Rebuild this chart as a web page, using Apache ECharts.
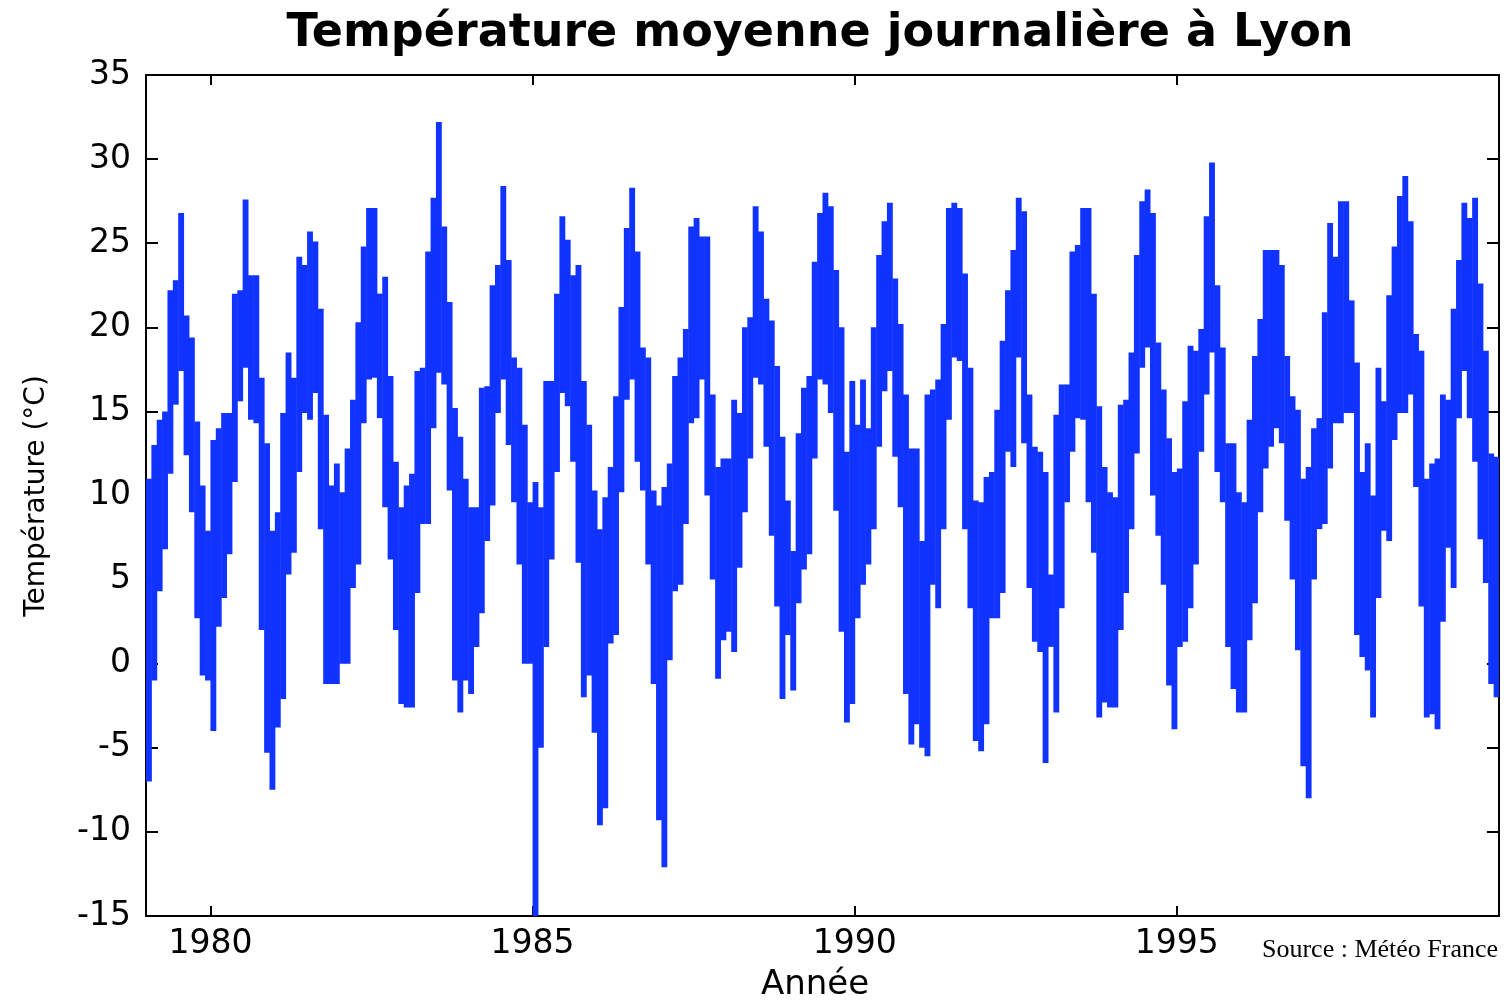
<!DOCTYPE html>
<html>
<head>
<meta charset="utf-8">
<script src="https://cdn.jsdelivr.net/npm/echarts@6/dist/echarts.min.js"></script>
<style>
  html, body { margin: 0; padding: 0; background: #fff; }
  #chart { width: 1508px; height: 1002px; }
</style>
</head>
<body>
<div id="chart"></div>
<script>
// Années couvertes (une ligne de 12 mois par année)
const years = [1979, 1980, 1981, 1982, 1983, 1984, 1985, 1986, 1987, 1988, 1989,
               1990, 1991, 1992, 1993, 1994, 1995, 1996, 1997, 1998, 1999];

// Maximum de la température journalière lu pour chaque mois (°C)
const monthHigh = [
  11, 13, 14.5, 15, 22.2, 22.8, 26.8, 20.7, 19.4, 14.4, 10.6, 7.9,
  13.3, 14, 14.9, 14.9, 22, 22.2, 27.6, 23.1, 23.1, 17, 13.1, 7.9,
  9, 14.9, 18.5, 17, 24.2, 23.7, 25.7, 25.1, 21.1, 14.8, 10.6, 11.9,
  10.2, 12.8, 15.7, 20.3, 24.8, 27.1, 27.1, 22, 23, 17.1, 12, 9.3,
  10.6, 11.3, 17.4, 17.6, 24.5, 27.7, 32.2, 26, 21.5, 15.2, 13.5, 11,
  9.3, 9.3, 16.4, 16.5, 22.5, 23.7, 28.4, 24, 18.2, 17.6, 14.2, 9.6,
  10.8, 9.3, 16.8, 16.8, 22, 26.6, 25.2, 23.1, 23.7, 16.8, 14.2, 10.3,
  8, 9.9, 11.7, 15.9, 21.2, 25.9, 28.3, 24.5, 18.8, 18.2, 10.3, 9.4,
  10.5, 11.9, 17.1, 18.2, 19.9, 26, 26.5, 25.4, 25.4, 16, 11.7, 12.2,
  12.2, 15.7, 14.9, 20, 20.6, 27.2, 25.7, 21.7, 20.4, 17.7, 13.5, 9.7,
  6.7, 13.7, 16.4, 17.1, 23.9, 26.8, 28, 27.2, 23.4, 20, 12.6, 16.8,
  14.2, 16.9, 14, 20, 24.3, 26.3, 27.4, 22.9, 20.2, 16, 12.8, 12.8,
  7.3, 16, 16.3, 16.9, 20.2, 27.1, 27.4, 27.1, 23.2, 17.6, 9.7, 9.6,
  11.1, 11.4, 15.1, 19.2, 22.2, 24.6, 27.7, 26.9, 16, 12.9, 12.6, 11.4,
  5.3, 14.8, 16.6, 16.6, 24.5, 24.9, 27.1, 27.1, 22, 15.3, 11.7, 10.2,
  9.9, 15.4, 15.7, 18.5, 24.3, 27.5, 28.2, 26.8, 19.1, 16.3, 13.4, 11.4,
  11.6, 15.6, 18.9, 18.6, 19.9, 26.6, 29.8, 22.5, 18.8, 13.1, 13.1, 10.2,
  9.6, 14.5, 18.3, 20.5, 24.6, 24.6, 24.6, 23.7, 18.3, 15.9, 15.1, 11,
  11.7, 14, 14.6, 20.9, 26.2, 24.2, 27.5, 27.5, 21.6, 17.9, 11.4, 13.1,
  10, 17.6, 15.6, 21.9, 24.8, 27.8, 29, 26.3, 19.6, 18.6, 11, 11.9,
  12.2, 16, 15.7, 21.1, 24, 27.4, 26.5, 27.7, 22.6, 18.6, 12.5, 12.3
];

// Minimum de la température journalière lu pour chaque mois (°C)
const monthLow = [
  -7, -1, 4.3, 6.8, 11.3, 15.4, 17.4, 12.4, 9, 2.7, -0.7, -1,
  -4, 2.2, 3.9, 6.5, 10.8, 15.6, 17.6, 14.5, 14.3, 2, -5.3, -7.5,
  -3.8, -2.1, 5.3, 6.6, 11.4, 14.9, 14.5, 16.1, 8, -1.2, -1.2, -1.2,
  0, 0, 4.5, 5.9, 14.3, 16.9, 17, 14.6, 9.3, 6.2, 2, -2.4,
  -2.6, -2.6, 4.2, 8.3, 8.3, 14, 17.3, 16.6, 10.3, -1, -2.9, -1,
  -1.8, 1, 3, 7.3, 9.4, 14.9, 16.9, 13, 9.6, 5.9, 0, 0,
  -15, -5, 1, 6.2, 11.4, 16.1, 15.3, 12, 6, -2, -0.7, -4.1,
  -9.6, -8.6, 1.2, 1.7, 10.2, 15.7, 16.9, 12, 10.3, 5.9, -1.2, -9.3,
  -12.1, 0.2, 4.3, 4.7, 8.3, 14.3, 14.6, 16.9, 10, 5, -0.9, 1.4,
  1.9, 0.7, 5.7, 9, 12.2, 17, 16.6, 12.9, 7.6, 3.4, -2.1, 1.7,
  -1.6, 3.6, 5.6, 6.5, 12.2, 16.9, 16.6, 14.9, 9.1, 1.9, -3.5, -2.4,
  2.7, 4.7, 5.9, 8, 12.9, 16.2, 17.4, 12.3, 9.3, -1.8, -4.8, -3.6,
  -5, -5.5, 4.7, 3.3, 8, 14.5, 18.2, 18, 8, 3.3, -4.6, -5.2,
  -3.6, 2.7, 2.7, 4.2, 12.6, 11.7, 18.2, 13.1, 4.5, 1.3, 0.7, -5.9,
  1, -2.9, 3.3, 9.6, 12.6, 14.6, 14.5, 9.6, 6.6, -3.2, -2.3, -2.6,
  -2.6, 2, 4.2, 8, 12.5, 17.6, 18.8, 10, 7.6, 4.7, -1.3, -3.9,
  1, 1.3, 3.3, 5.9, 12.6, 16, 18.5, 11.4, 9.6, 1, -1.5, -2.9,
  -2.9, 1.4, 3.6, 9, 11.6, 12.9, 14, 13.1, 8.5, 5, 0.8, -6.1,
  -8, 5, 8, 8.3, 11.6, 14.3, 14.3, 14.9, 14.9, 1.7, 0.4, -0.4,
  -3.2, 3.9, 7.9, 7.3, 13.3, 14.9, 14.9, 16, 10.5, 3.4, -3.2, -3,
  -3.9, 2.5, 6.9, 4.5, 14.6, 17.4, 14.6, 12, 7.4, 4.8, -1.2, -2
];

// une colonne par mois : [début, fin, min, max]
const monthData = [];
years.forEach((y, i) => {
    for (let m = 0; m < 12; m++) {
        const k = i * 12 + m;
        monthData.push([y + m / 12, y + (m + 1) / 12, monthLow[k], monthHigh[k]]);
    }
});

const chart = echarts.init(document.getElementById('chart'));
const black = '#000';
const blue = '#1133ff';
const tickFont = { fontFamily: 'DejaVu Sans', fontSize: 33, color: black };

function renderMonth(params, api) {
    const top = api.coord([api.value(0), api.value(3)]);
    const bottom = api.coord([api.value(1), api.value(2)]);
    return {
        type: 'rect',
        shape: { x: top[0], y: top[1], width: bottom[0] - top[0] + 0.5, height: bottom[1] - top[1] },
        style: { fill: blue }
    };
}

chart.setOption({
    animation: false,
    backgroundColor: '#fff',
    grid: { left: 146, right: 9, top: 75, bottom: 86 },
    graphic: [
        {
            type: 'text', x: 820, y: 34,
            style: {
                text: 'Température moyenne journalière à Lyon',
                font: 'bold 46px "DejaVu Sans"', fill: black,
                textAlign: 'center', textVerticalAlign: 'middle'
            }
        },
        {
            type: 'text', x: 37, y: 496, rotation: Math.PI / 2,
            style: {
                text: 'Température (°C)',
                font: '28px "DejaVu Sans"', fill: black,
                textAlign: 'center', textVerticalAlign: 'middle'
            }
        },
        {
            type: 'text', x: 815, y: 985,
            style: {
                text: 'Année',
                font: '34px "DejaVu Sans"', fill: black,
                textAlign: 'center', textVerticalAlign: 'middle'
            }
        },
        {
            type: 'text', x: 1262, y: 950,
            style: {
                text: 'Source : Météo France',
                font: '26px "Liberation Serif"', fill: black,
                textAlign: 'left', textVerticalAlign: 'middle'
            }
        }
    ],
    xAxis: [
        {
            type: 'value', min: 1979, max: 2000, splitNumber: 5,
            axisLine: { onZero: false, lineStyle: { color: black, width: 2 } },
            axisTick: { inside: true, length: 10, lineStyle: { color: black, width: 2 } },
            axisLabel: Object.assign({
                margin: 12, showMinLabel: false, showMaxLabel: false,
                formatter: v => String(v)
            }, tickFont),
            splitLine: { show: false }
        },
        {
            type: 'value', position: 'top', min: 1979, max: 2000, splitNumber: 5,
            axisLine: { onZero: false, lineStyle: { color: black, width: 2 } },
            axisTick: { inside: true, length: 10, lineStyle: { color: black, width: 2 } },
            axisLabel: { show: false },
            splitLine: { show: false }
        }
    ],
    yAxis: [
        {
            type: 'value', min: -15, max: 35, interval: 5,
            axisLine: { show: true, onZero: false, lineStyle: { color: black, width: 2 } },
            axisTick: { show: true, inside: true, length: 12, lineStyle: { color: black, width: 2 } },
            axisLabel: Object.assign({ margin: 15 }, tickFont),
            splitLine: { show: false }
        },
        {
            type: 'value', position: 'right', min: -15, max: 35, interval: 5,
            axisLine: { show: true, onZero: false, lineStyle: { color: black, width: 2 } },
            axisTick: { show: true, inside: true, length: 12, lineStyle: { color: black, width: 2 } },
            axisLabel: { show: false },
            splitLine: { show: false }
        }
    ],
    series: [{
        type: 'custom',
        renderItem: renderMonth,
        encode: { x: [0, 1], y: [2, 3] },
        data: monthData,
        clip: true
    }]
});

window.addEventListener('resize', () => chart.resize());
</script>
</body>
</html>
